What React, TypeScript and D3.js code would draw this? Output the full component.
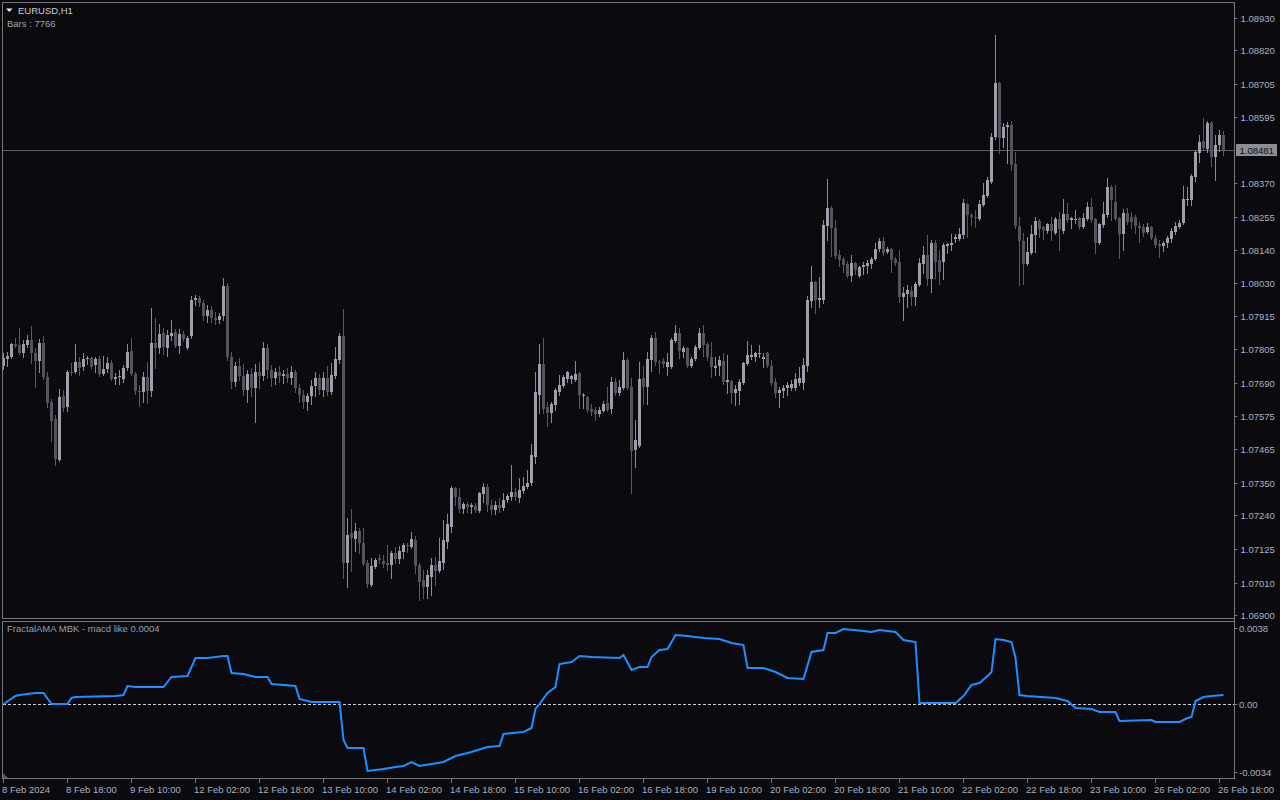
import React from 'react';
import * as d3 from 'd3';

// ---------- DATA (EURUSD H1) ----------
const symbolTitle = 'EURUSD,H1';
const barsText = 'Bars : 7766';
const indicatorTitle = 'FractalAMA MBK - macd like 0.0004';
const lastPrice = 1.08481;

const openP = [1.07747,1.07770,1.07777,1.07821,1.07818,1.07791,1.07818,1.07835,1.07791,1.07764,1.07825,1.07709,1.07624,1.07566,1.07427,1.07645,1.07607,1.07726,1.07726,1.07760,1.07743,1.07770,1.07774,1.07750,1.07770,1.07719,1.07736,1.07757,1.07702,1.07709,1.07702,1.07740,1.07798,1.07719,1.07662,1.07658,1.07709,1.07662,1.07825,1.07808,1.07859,1.07808,1.07849,1.07862,1.07815,1.07855,1.07808,1.07849,1.07971,1.07978,1.07961,1.07917,1.07937,1.07910,1.07903,1.07917,1.08019,1.07777,1.07692,1.07747,1.07713,1.07665,1.07719,1.07672,1.07726,1.07713,1.07808,1.07733,1.07706,1.07726,1.07713,1.07719,1.07706,1.07726,1.07672,1.07648,1.07624,1.07645,1.07679,1.07706,1.07665,1.07706,1.07658,1.07713,1.07767,1.07849,1.07077,1.07179,1.07158,1.07186,1.07145,1.07077,1.07002,1.07063,1.07094,1.07084,1.07077,1.07070,1.07111,1.07090,1.07114,1.07138,1.07131,1.07155,1.07070,1.07019,1.06995,1.07029,1.07070,1.07050,1.07077,1.07148,1.07199,1.07332,1.07301,1.07260,1.07277,1.07267,1.07271,1.07254,1.07311,1.07335,1.07274,1.07257,1.07274,1.07264,1.07291,1.07301,1.07318,1.07298,1.07322,1.07335,1.07349,1.07437,1.07648,1.07753,1.07607,1.07587,1.07614,1.07658,1.07679,1.07702,1.07702,1.07699,1.07723,1.07645,1.07641,1.07600,1.07597,1.07583,1.07594,1.07621,1.07600,1.07692,1.07655,1.07672,1.07767,1.07675,1.07461,1.07475,1.07706,1.07675,1.07767,1.07842,1.07760,1.07764,1.07743,1.07743,1.07832,1.07859,1.07794,1.07808,1.07747,1.07770,1.07808,1.07859,1.07821,1.07777,1.07740,1.07747,1.07764,1.07692,1.07696,1.07655,1.07662,1.07689,1.07753,1.07777,1.07777,1.07787,1.07770,1.07791,1.07747,1.07692,1.07655,1.07662,1.07672,1.07672,1.07672,1.07689,1.07689,1.07747,1.07968,1.08032,1.07971,1.07971,1.08223,1.08284,1.08216,1.08124,1.08110,1.08093,1.08053,1.08097,1.08053,1.08083,1.08087,1.08093,1.08110,1.08144,1.08172,1.08134,1.08144,1.08110,1.08100,1.07981,1.07991,1.08002,1.07981,1.08022,1.08093,1.08124,1.08042,1.08165,1.08107,1.08100,1.08155,1.08158,1.08178,1.08178,1.08192,1.08297,1.08260,1.08253,1.08246,1.08294,1.08325,1.08372,1.08525,1.08709,1.08522,1.08559,1.08566,1.08433,1.08223,1.08172,1.08093,1.08131,1.08192,1.08240,1.08219,1.08205,1.08229,1.08199,1.08246,1.08205,1.08263,1.08243,1.08243,1.08250,1.08219,1.08246,1.08287,1.08246,1.08165,1.08226,1.08260,1.08355,1.08304,1.08250,1.08195,1.08267,1.08253,1.08253,1.08223,1.08219,1.08202,1.08219,1.08182,1.08162,1.08155,1.08165,1.08178,1.08202,1.08219,1.08233,1.08311,1.08311,1.08389,1.08471,1.08512,1.08484,1.08573,1.08457,1.08498,1.08532];
const highP = [1.07791,1.07794,1.07825,1.07842,1.07876,1.07835,1.07852,1.07883,1.07808,1.07838,1.07849,1.07726,1.07634,1.07580,1.07668,1.07665,1.07733,1.07757,1.07821,1.07777,1.07791,1.07781,1.07777,1.07777,1.07781,1.07781,1.07777,1.07767,1.07723,1.07733,1.07750,1.07821,1.07842,1.07726,1.07682,1.07726,1.07760,1.07944,1.07910,1.07889,1.07876,1.07869,1.07903,1.07872,1.07872,1.07866,1.07849,1.07985,1.07988,1.07985,1.07971,1.07954,1.07951,1.07930,1.07927,1.08046,1.08029,1.07794,1.07760,1.07774,1.07753,1.07733,1.07740,1.07753,1.07760,1.07828,1.07821,1.07750,1.07740,1.07747,1.07733,1.07740,1.07747,1.07733,1.07685,1.07665,1.07655,1.07699,1.07726,1.07719,1.07726,1.07747,1.07757,1.07811,1.07859,1.07940,1.07230,1.07260,1.07213,1.07196,1.07196,1.07087,1.07094,1.07094,1.07107,1.07104,1.07138,1.07118,1.07131,1.07135,1.07145,1.07145,1.07182,1.07169,1.07077,1.07053,1.07053,1.07094,1.07097,1.07162,1.07223,1.07243,1.07339,1.07335,1.07332,1.07284,1.07284,1.07280,1.07280,1.07318,1.07349,1.07345,1.07291,1.07288,1.07298,1.07315,1.07311,1.07410,1.07332,1.07366,1.07369,1.07393,1.07481,1.07726,1.07821,1.07842,1.07624,1.07624,1.07672,1.07716,1.07716,1.07730,1.07716,1.07764,1.07726,1.07655,1.07645,1.07617,1.07607,1.07607,1.07627,1.07675,1.07709,1.07706,1.07699,1.07794,1.07774,1.07706,1.07563,1.07760,1.07747,1.07794,1.07852,1.07862,1.07767,1.07774,1.07791,1.07842,1.07886,1.07876,1.07815,1.07811,1.07777,1.07818,1.07876,1.07886,1.07828,1.07828,1.07777,1.07781,1.07791,1.07784,1.07699,1.07682,1.07702,1.07760,1.07832,1.07818,1.07794,1.07818,1.07791,1.07794,1.07767,1.07706,1.07675,1.07682,1.07692,1.07699,1.07723,1.07743,1.07774,1.07985,1.08087,1.08036,1.08049,1.08243,1.08382,1.08291,1.08243,1.08141,1.08117,1.08104,1.08124,1.08100,1.08087,1.08100,1.08107,1.08117,1.08165,1.08182,1.08185,1.08151,1.08148,1.08117,1.08141,1.08015,1.08022,1.08019,1.08032,1.08114,1.08155,1.08192,1.08175,1.08175,1.08141,1.08165,1.08165,1.08195,1.08195,1.08216,1.08314,1.08301,1.08267,1.08277,1.08311,1.08369,1.08389,1.08539,1.08872,1.08712,1.08573,1.08576,1.08580,1.08474,1.08253,1.08199,1.08185,1.08226,1.08253,1.08246,1.08223,1.08233,1.08253,1.08253,1.08270,1.08314,1.08301,1.08253,1.08277,1.08253,1.08267,1.08304,1.08318,1.08250,1.08233,1.08304,1.08386,1.08362,1.08362,1.08253,1.08280,1.08284,1.08270,1.08260,1.08236,1.08229,1.08233,1.08223,1.08192,1.08175,1.08172,1.08189,1.08216,1.08236,1.08243,1.08358,1.08355,1.08399,1.08481,1.08532,1.08590,1.08580,1.08580,1.08532,1.08549,1.08546];
const lowP = [1.07736,1.07747,1.07774,1.07811,1.07787,1.07777,1.07811,1.07757,1.07675,1.07726,1.07702,1.07607,1.07492,1.07410,1.07424,1.07594,1.07594,1.07716,1.07723,1.07716,1.07733,1.07753,1.07740,1.07726,1.07713,1.07716,1.07726,1.07699,1.07685,1.07685,1.07692,1.07733,1.07716,1.07651,1.07611,1.07624,1.07621,1.07645,1.07740,1.07791,1.07787,1.07781,1.07835,1.07811,1.07791,1.07832,1.07804,1.07842,1.07954,1.07951,1.07903,1.07896,1.07896,1.07889,1.07893,1.07903,1.07767,1.07672,1.07679,1.07699,1.07648,1.07624,1.07645,1.07556,1.07672,1.07699,1.07706,1.07679,1.07685,1.07692,1.07689,1.07692,1.07685,1.07658,1.07624,1.07604,1.07597,1.07617,1.07645,1.07651,1.07645,1.07648,1.07651,1.07706,1.07757,1.07026,1.06995,1.07050,1.07118,1.07111,1.07070,1.06995,1.06998,1.07060,1.07077,1.07063,1.07053,1.07026,1.07077,1.07077,1.07094,1.07114,1.07128,1.07043,1.06951,1.06958,1.06958,1.06968,1.07002,1.07046,1.07056,1.07128,1.07182,1.07274,1.07250,1.07247,1.07250,1.07247,1.07250,1.07250,1.07284,1.07254,1.07243,1.07243,1.07250,1.07257,1.07284,1.07291,1.07291,1.07284,1.07315,1.07332,1.07342,1.07417,1.07587,1.07587,1.07543,1.07556,1.07597,1.07648,1.07675,1.07692,1.07689,1.07696,1.07604,1.07604,1.07590,1.07580,1.07563,1.07577,1.07590,1.07594,1.07587,1.07648,1.07648,1.07668,1.07668,1.07315,1.07403,1.07471,1.07617,1.07617,1.07730,1.07750,1.07723,1.07743,1.07716,1.07740,1.07828,1.07774,1.07777,1.07743,1.07743,1.07767,1.07804,1.07781,1.07767,1.07709,1.07716,1.07716,1.07685,1.07655,1.07621,1.07614,1.07617,1.07685,1.07750,1.07770,1.07764,1.07777,1.07743,1.07743,1.07682,1.07641,1.07607,1.07641,1.07648,1.07665,1.07665,1.07682,1.07668,1.07730,1.07947,1.07927,1.07947,1.07961,1.08175,1.08121,1.08114,1.08087,1.08066,1.08049,1.08036,1.08059,1.08049,1.08059,1.08063,1.08080,1.08107,1.08138,1.08124,1.08131,1.08066,1.08090,1.07964,1.07903,1.07947,1.07954,1.07954,1.08019,1.08063,1.08022,1.07998,1.08046,1.08025,1.08042,1.08131,1.08141,1.08168,1.08175,1.08182,1.08185,1.08226,1.08219,1.08243,1.08291,1.08321,1.08369,1.08518,1.08471,1.08491,1.08437,1.08413,1.08216,1.08022,1.08025,1.08090,1.08127,1.08134,1.08185,1.08178,1.08199,1.08175,1.08195,1.08141,1.08199,1.08236,1.08216,1.08233,1.08212,1.08216,1.08243,1.08236,1.08131,1.08162,1.08219,1.08253,1.08243,1.08243,1.08114,1.08141,1.08229,1.08216,1.08199,1.08168,1.08189,1.08199,1.08178,1.08151,1.08117,1.08138,1.08151,1.08168,1.08195,1.08216,1.08229,1.08294,1.08294,1.08375,1.08440,1.08481,1.08474,1.08427,1.08379,1.08478,1.08464];
const closeP = [1.07774,1.07781,1.07821,1.07815,1.07791,1.07821,1.07835,1.07791,1.07764,1.07825,1.07709,1.07621,1.07560,1.07430,1.07641,1.07604,1.07726,1.07723,1.07760,1.07740,1.07770,1.07774,1.07743,1.07770,1.07719,1.07736,1.07757,1.07702,1.07709,1.07713,1.07740,1.07794,1.07719,1.07662,1.07658,1.07709,1.07662,1.07825,1.07808,1.07855,1.07811,1.07852,1.07859,1.07815,1.07855,1.07838,1.07842,1.07971,1.07978,1.07961,1.07917,1.07937,1.07910,1.07903,1.07917,1.08019,1.07777,1.07692,1.07747,1.07713,1.07665,1.07719,1.07672,1.07726,1.07713,1.07808,1.07733,1.07706,1.07726,1.07713,1.07719,1.07706,1.07726,1.07672,1.07648,1.07624,1.07645,1.07679,1.07706,1.07665,1.07706,1.07658,1.07716,1.07770,1.07849,1.07077,1.07172,1.07162,1.07186,1.07145,1.07073,1.07005,1.07067,1.07087,1.07087,1.07073,1.07070,1.07111,1.07090,1.07118,1.07138,1.07135,1.07158,1.07067,1.07012,1.06995,1.07036,1.07070,1.07050,1.07084,1.07155,1.07209,1.07332,1.07301,1.07260,1.07277,1.07267,1.07274,1.07257,1.07315,1.07335,1.07274,1.07257,1.07274,1.07264,1.07291,1.07305,1.07318,1.07301,1.07325,1.07339,1.07349,1.07444,1.07658,1.07753,1.07600,1.07587,1.07617,1.07665,1.07682,1.07709,1.07726,1.07713,1.07719,1.07648,1.07648,1.07597,1.07590,1.07583,1.07597,1.07617,1.07597,1.07692,1.07655,1.07675,1.07767,1.07672,1.07458,1.07495,1.07702,1.07675,1.07770,1.07842,1.07760,1.07757,1.07753,1.07760,1.07835,1.07859,1.07798,1.07808,1.07747,1.07770,1.07811,1.07859,1.07818,1.07777,1.07743,1.07747,1.07767,1.07692,1.07699,1.07655,1.07668,1.07692,1.07757,1.07784,1.07784,1.07791,1.07791,1.07777,1.07747,1.07689,1.07655,1.07665,1.07672,1.07682,1.07685,1.07702,1.07706,1.07750,1.07971,1.08032,1.07971,1.07978,1.08226,1.08284,1.08216,1.08121,1.08107,1.08090,1.08053,1.08097,1.08073,1.08083,1.08090,1.08097,1.08110,1.08144,1.08172,1.08131,1.08144,1.08107,1.08097,1.07981,1.07995,1.08005,1.07981,1.08025,1.08097,1.08124,1.08042,1.08165,1.08100,1.08066,1.08158,1.08162,1.08165,1.08185,1.08195,1.08301,1.08260,1.08253,1.08250,1.08297,1.08328,1.08379,1.08525,1.08709,1.08522,1.08559,1.08566,1.08430,1.08223,1.08172,1.08093,1.08134,1.08195,1.08240,1.08212,1.08209,1.08229,1.08205,1.08246,1.08212,1.08263,1.08243,1.08250,1.08246,1.08219,1.08250,1.08287,1.08243,1.08165,1.08229,1.08263,1.08355,1.08311,1.08246,1.08195,1.08267,1.08236,1.08236,1.08223,1.08216,1.08199,1.08219,1.08182,1.08158,1.08155,1.08165,1.08182,1.08205,1.08223,1.08233,1.08314,1.08314,1.08392,1.08474,1.08508,1.08488,1.08573,1.08457,1.08498,1.08532,1.08481];

// indicator vertices (bar index, value)
const macdBars = [0,3,4,6,8,10,12,16,17,18,28,30,31,33,40,42,46,48,51,55,56,57,60,63,66,67,73,74,77,84,85,86,90,91,93,95,98,100,102,104,107,110,113,117,121,124,125,130,132,133,134,136,138,139,142,144,147,154,155,157,159,161,162,164,166,168,171,175,179,182,185,186,190,193,196,200,202,205,206,208,210,215,217,219,223,225,228,229,238,240,242,244,246,247,248,250,252,253,254,256,263,266,268,272,274,278,279,287,288,294,296,297,298,300,302,305];
const macdValues = [0,0.0004,0.00045,0.0005,0.00055,0.00055,0,0,0.0003,0.00035,0.0004,0.00045,0.0009,0.00085,0.00085,0.00135,0.0014,0.0023,0.0023,0.0024,0.0024,0.00155,0.0015,0.00135,0.00135,0.001,0.0009,0.00025,0.0001,0.0001,-0.0018,-0.0022,-0.0022,-0.00335,-0.0033,-0.00325,-0.00315,-0.0031,-0.0029,-0.0031,-0.003,-0.0029,-0.0026,-0.0024,-0.00215,-0.0021,-0.0015,-0.0014,-0.0012,-0.00025,0,0.00055,0.00085,0.002,0.0021,0.0024,0.00235,0.0023,0.00245,0.0017,0.00185,0.00185,0.00235,0.0027,0.00275,0.00345,0.0034,0.0033,0.00325,0.00305,0.00295,0.0018,0.0018,0.0016,0.0013,0.00125,0.0026,0.0027,0.00355,0.00355,0.00375,0.00365,0.0036,0.0037,0.0036,0.0032,0.0031,0.00005,0.00005,0.0004,0.00095,0.00105,0.0014,0.0016,0.00325,0.0032,0.0031,0.0023,0.00045,0.0004,0.0003,0.00015,-0.0002,-0.00025,-0.0004,-0.0004,-0.00085,-0.0008,-0.0009,-0.0009,-0.0007,-0.00065,0.00015,0.00035,0.0004,0.00045];

const priceTicks = [1.08930,1.08820,1.08705,1.08595,1.08370,1.08255,1.08140,1.08030,1.07915,1.07805,1.07690,1.07575,1.07465,1.07350,1.07240,1.07125,1.07010,1.06900];
const macdTicks = [0.0038, 0, -0.0034];
const macdTickLabels = ['0.0038', '0.00', '-0.0034'];
const timeLabels = ['8 Feb 2024','8 Feb 18:00','9 Feb 10:00','12 Feb 02:00','12 Feb 18:00','13 Feb 10:00','14 Feb 02:00','14 Feb 18:00','15 Feb 10:00','16 Feb 02:00','16 Feb 18:00','19 Feb 10:00','20 Feb 02:00','20 Feb 18:00','21 Feb 10:00','22 Feb 02:00','22 Feb 18:00','23 Feb 10:00','26 Feb 02:00','26 Feb 18:00'];
const timeLabelBars = [0,16,32,48,64,80,96,112,128,144,160,176,192,208,224,240,256,272,288,304];

// ---------- STYLE ----------
const BG = 'rgb(10,10,15)';
const FRAME = '#77777c';
const AXIS_TEXT = '#a9b1c0';
const BULL = '#9e9eac';
const BEAR = '#54545b';
const BULL_WICK = '#8c8c98';
const BEAR_WICK = '#5a5a62';
const FONT = '"Liberation Sans", Arial, sans-serif';
const FS = 9.5;

export default function App() {
  const W = 1280, H = 800;
  const axisX = 1234.5;
  const x = d3.scaleLinear().domain([0, 305]).range([3.5, 1223.5]);
  const y = d3.scaleLinear().domain([1.069, 1.0893]).range([615, 18]);
  const ym = d3.scaleLinear().domain([-0.0034, 0.0038]).range([772, 628]);

  const line = d3.line<number>()
    .x((_, k) => x(macdBars[k]))
    .y((v) => ym(v));

  const candles = openP.map((o, i) => {
    const c = closeP[i];
    const hi = highP[i];
    const lo = lowP[i];
    const cx = x(i);
    const bull = c >= o;
    const top = Math.round(y(Math.max(o, c)));
    const bot = Math.round(y(Math.min(o, c)));
    const h = Math.max(1, bot - top);
    return (
      <g key={i}>
        <line x1={cx} x2={cx} y1={Math.round(y(hi))} y2={Math.round(y(lo)) + 1}
          stroke={bull ? BULL_WICK : BEAR_WICK} strokeWidth={1} />
        <rect x={cx - 1.5} y={top} width={3} height={h} fill={bull ? BULL : BEAR} />
      </g>
    );
  });

  const lastY = Math.round(y(lastPrice)) + 0.5;
  const zeroY = Math.round(ym(0)) + 0.5;

  return (
    <svg width={W} height={H} style={{ position: 'absolute', left: 0, top: 0, display: 'block' }}
      fontFamily={FONT}>
      <rect x={0} y={0} width={W} height={H} fill={BG} />
      <defs>
        <clipPath id="mainClip"><rect x={3} y={3} width={1231} height={615} /></clipPath>
        <clipPath id="subClip"><rect x={3} y={622} width={1231} height={156} /></clipPath>
      </defs>

      {/* price line */}
      <line x1={2} x2={axisX} y1={lastY} y2={lastY} stroke="#5f5f66" strokeWidth={1} />

      <g clipPath="url(#mainClip)">{candles}</g>

      {/* indicator */}
      <line x1={3} x2={axisX} y1={zeroY} y2={zeroY} stroke="#cfcfd4" strokeWidth={1} strokeDasharray="3,2" />
      <g clipPath="url(#subClip)">
        <path d={line(macdValues) || ''} fill="none" stroke="#1e90ff" strokeWidth={2} strokeLinejoin="miter" />
      </g>

      {/* frames */}
      <g stroke={FRAME} strokeWidth={1} fill="none">
        <path d={`M2.5,618.5 L2.5,2.5 L${axisX},2.5`} />
        <line x1={2} x2={axisX} y1={618.5} y2={618.5} />
        <path d={`M2.5,778.5 L2.5,621.5 L${axisX},621.5`} />
        <line x1={2} x2={axisX} y1={778.5} y2={778.5} />
        <line x1={axisX} x2={axisX} y1={2} y2={779} />
      </g>

      {/* price axis */}
      <g fontSize={FS} fill={AXIS_TEXT}>
        {priceTicks.map((p) => {
          const ty = Math.round(y(p)) + 0.5;
          return (
            <g key={p}>
              <line x1={axisX} x2={axisX + 3} y1={ty} y2={ty} stroke={FRAME} />
              <text x={1240.5} y={ty + 3.5}>{p.toFixed(5)}</text>
            </g>
          );
        })}
        <rect x={1236} y={lastY - 6.5} width={41} height={12} fill="#8d8d94" />
        <text x={1239.5} y={lastY + 3.5} fill="#0b0b12">{lastPrice.toFixed(5)}</text>
      </g>

      {/* indicator axis */}
      <g fontSize={FS} fill={AXIS_TEXT}>
        {macdTicks.map((v, k) => {
          const ty = Math.round(ym(v)) + 0.5;
          return (
            <g key={k}>
              <line x1={axisX} x2={axisX + 3} y1={ty} y2={ty} stroke={FRAME} />
              <text x={1239} y={ty + 3.5}>{macdTickLabels[k]}</text>
            </g>
          );
        })}
      </g>

      {/* time axis */}
      <g fontSize={FS} fill={AXIS_TEXT}>
        {timeLabels.map((t, k) => {
          const tx = x(timeLabelBars[k]);
          return (
            <g key={t}>
              <line x1={tx} x2={tx} y1={779} y2={783} stroke={FRAME} />
              <text x={tx - 1.5} y={793}>{t}</text>
            </g>
          );
        })}
      </g>

      {/* small corner marker */}
      <path d="M3,773 L3,778 L8,778 Z" fill="#55555c" />

      {/* titles */}
      <path d="M6,8.5 L12.5,8.5 L9.25,12 Z" fill="#f0f0f0" />
      <text x={18} y={14} fontSize={FS} fill="#c9cfdc">{symbolTitle}</text>
      <text x={7} y={27} fontSize={FS} fill="#9fa4b0">{barsText}</text>
      <text x={7} y={632} fontSize={FS} fill="#9a9fab">{indicatorTitle}</text>
    </svg>
  );
}
